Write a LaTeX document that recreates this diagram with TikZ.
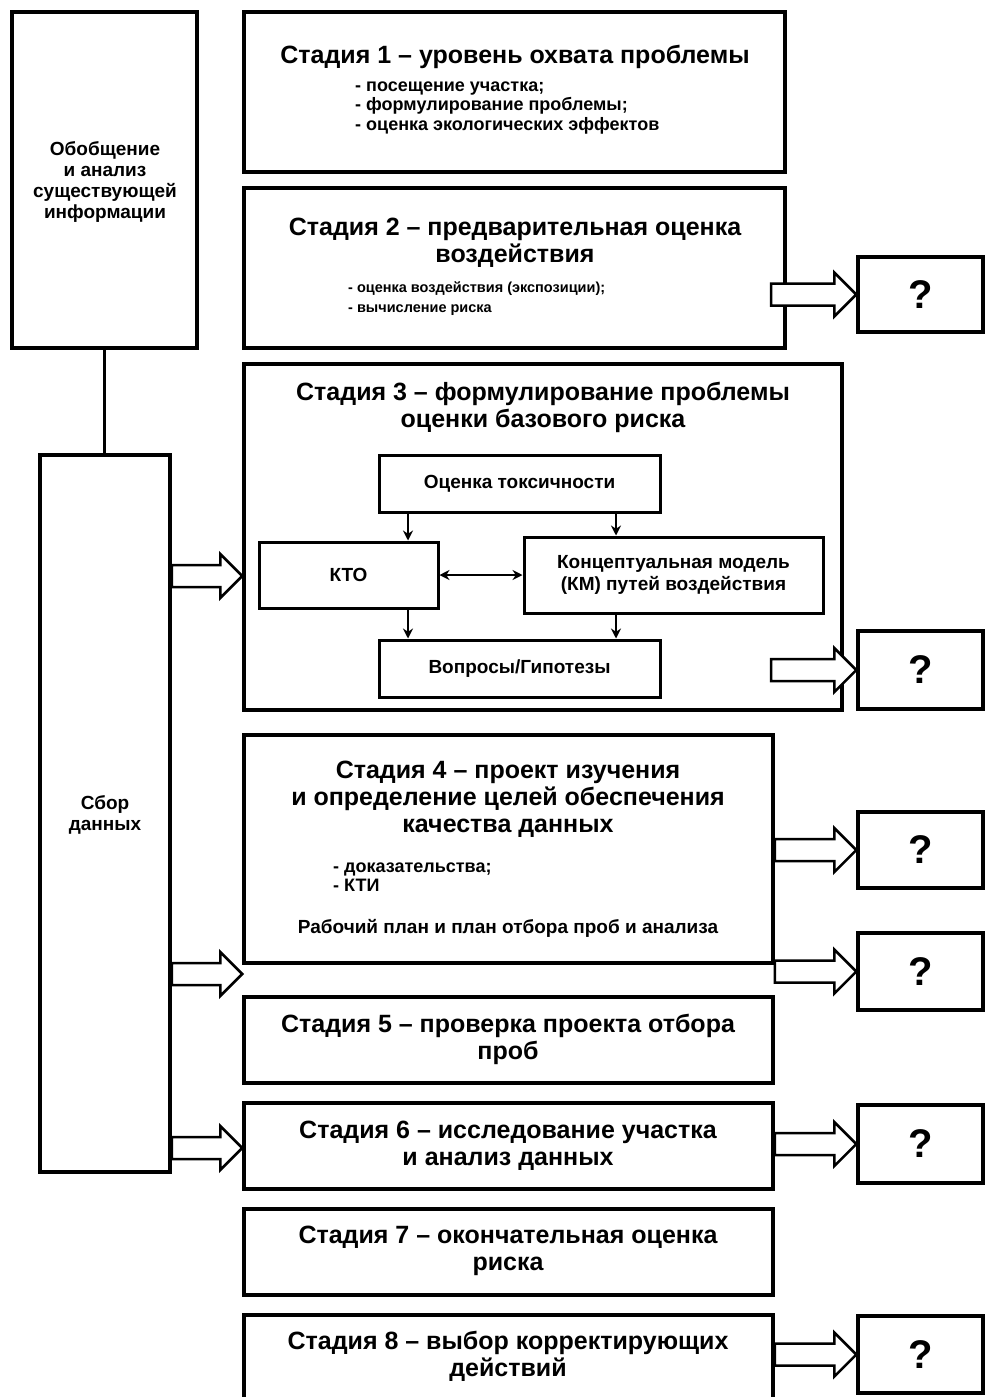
\documentclass[tikz,border=0pt]{standalone}
\usepackage{fontspec}
\setmainfont{Liberation Sans}
\usetikzlibrary{fit,calc,arrows.meta}
\tikzset{
  box/.style={draw, line width=3.5pt, inner sep=0pt},
  inbox/.style={draw, line width=3pt, inner sep=0pt},
  lbl/.style={inner sep=0pt, align=center},
  title/.style={lbl, font=\bfseries\fontsize{25}{27}\selectfont},
  bul/.style={inner sep=0pt, align=left, anchor=west, font=\bfseries\fontsize{18}{19.5}\selectfont},
  bulsmall/.style={bul, font=\bfseries\fontsize{14.5}{20}\selectfont},
  inlbl/.style={lbl, font=\bfseries\fontsize{19}{22}\selectfont},
  side/.style={lbl, font=\bfseries\fontsize{19}{21}\selectfont},
  qm/.style={lbl, font=\bfseries\fontsize{40}{40}\selectfont},
  hollow/.style={draw, fill=white, line width=2.5pt, line join=miter},
  thin arrow/.style={line width=2.5pt, -{Stealth[length=10pt,width=10pt]}},
  both arrow/.style={line width=2.5pt, {Stealth[length=10pt,width=10pt]}-{Stealth[length=10pt,width=10pt]}},
}
\newcommand\harrow[2]{%
  \draw[hollow] let \p1=(#2), \p2=(#1) in
    (\x2,\y1+11pt) -- (\x1-22pt,\y1+11pt) -- (\x1-22pt,\y1+22pt) -- (\x1,\y1)
    -- (\x1-22pt,\y1-22pt) -- (\x1-22pt,\y1-11pt) -- (\x2,\y1-11pt) -- cycle;}
\begin{document}
\begin{tikzpicture}[x=1pt,y=-1pt]
\useasboundingbox (0,0) rectangle (985,1397);
% left column
\node[box, fit={(12,12)(197,348)}] (gen) {};
\node[side] (gent) at (105,182) {Обобщение\\и анализ\\существующей\\информации};
\node[box, fit={(40,455)(170,1172)}] (data) {};
\node[side] (datat) at (105,815) {Сбор\\данных};
\draw[line width=3.5pt] (gen.south) -- (gen.south |- data.north);
% stage boxes
\node[box, fit={(244,12)(785,172)}] (s1) {};
\node[box, fit={(244,188)(785,348)}] (s2) {};
\node[box, fit={(244,364)(842,710)}] (s3) {};
\node[box, fit={(244,735)(773,963)}] (s4) {};
\node[box, fit={(244,997)(773,1083)}] (s5) {};
\node[box, fit={(244,1103)(773,1189)}] (s6) {};
\node[box, fit={(244,1209)(773,1295)}] (s7) {};
\node[box, fit={(244,1315)(773,1420)}] (s8) {};
% question boxes
\node[box, fit={(858,257)(983,332)}] (q2) {};
\node[box, fit={(858,631)(983,709)}] (q3) {};
\node[box, fit={(858,812)(983,888)}] (q4) {};
\node[box, fit={(858,933)(983,1010)}] (q5) {};
\node[box, fit={(858,1105)(983,1183)}] (q6) {};
\node[box, fit={(858,1316)(983,1393)}] (q8) {};
\foreach \q in {q2,q3,q4,q5,q6,q8} \node[qm] (\q t) at (\q.center) {?};
% stage texts
\node[title] (s1t) at (515,57) {Стадия 1 – уровень охвата проблемы};
\node[bul] (s1b) at (355,108) {- посещение участка;\\- формулирование проблемы;\\- оценка экологических эффектов};
\node[title] (s2t) at (515,243) {Стадия 2 – предварительная оценка\\воздействия};
\node[bulsmall] (s2b) at (348,299) {- оценка воздействия (экспозиции);\\- вычисление риска};
\node[title] (s3t) at (543,407) {Стадия 3 – формулирование проблемы\\оценки базового риска};
\node[title] (s4t) at (508,799) {Стадия 4 – проект изучения\\и определение целей обеспечения\\качества данных};
\node[bul] (s4b) at (333,877) {- доказательства;\\- КТИ};
\node[inlbl] (s4p) at (508,928) {Рабочий план и план отбора проб и анализа};
\node[title] (s5t) at (508,1039) {Стадия 5 – проверка проекта отбора\\проб};
\node[title] (s6t) at (508,1146) {Стадия 6 – исследование участка\\и анализ данных};
\node[title] (s7t) at (508,1251) {Стадия 7 – окончательная оценка\\риска};
\node[title] (s8t) at (508,1356) {Стадия 8 – выбор корректирующих\\действий};
% stage 3 inner
\node[inbox, fit={(379,455)(660,512)}] (tox) {};
\node[inlbl] at (tox.center) {Оценка токсичности};
\node[inbox, fit={(259,542)(438,608)}] (kto) {};
\node[inlbl] at (kto.center) {КТО};
\node[inbox, fit={(524,537)(823,613)}] (km) {};
\node[inlbl] at (km.center) {Концептуальная модель\\(КМ) путей воздействия};
\node[inbox, fit={(379,640)(660,697)}] (hyp) {};
\node[inlbl] at (hyp.center) {Вопросы/Гипотезы};
\coordinate (xa) at (408,0);
\coordinate (xb) at (616,0);
\draw[thin arrow] (tox.south -| xa) -- (kto.north -| xa);
\draw[thin arrow] (tox.south -| xb) -- (km.north -| xb);
\draw[thin arrow] (kto.south -| xa) -- (hyp.north -| xa);
\draw[thin arrow] (km.south -| xb) -- (hyp.north -| xb);
\draw[both arrow] (kto.east |- 0,575) -- (km.west |- 0,575);
% right hollow arrows
\coordinate (r2) at (771,0);
\harrow{r2}{q2.west}
\harrow{r2}{q3.west}
\harrow{s4.east}{q4.west}
\harrow{s4.east}{q5.west}
\harrow{s6.east}{q6.west}
\harrow{s8.east}{q8.west}
% left hollow arrows
\coordinate (l3) at (0,576);
\coordinate (l4) at (0,974);
\coordinate (l6) at (0,1148);
\harrow{data.east}{s3.west |- l3}
\harrow{data.east}{s4.west |- l4}
\harrow{data.east}{s6.west |- l6}
\end{tikzpicture}
\end{document}
